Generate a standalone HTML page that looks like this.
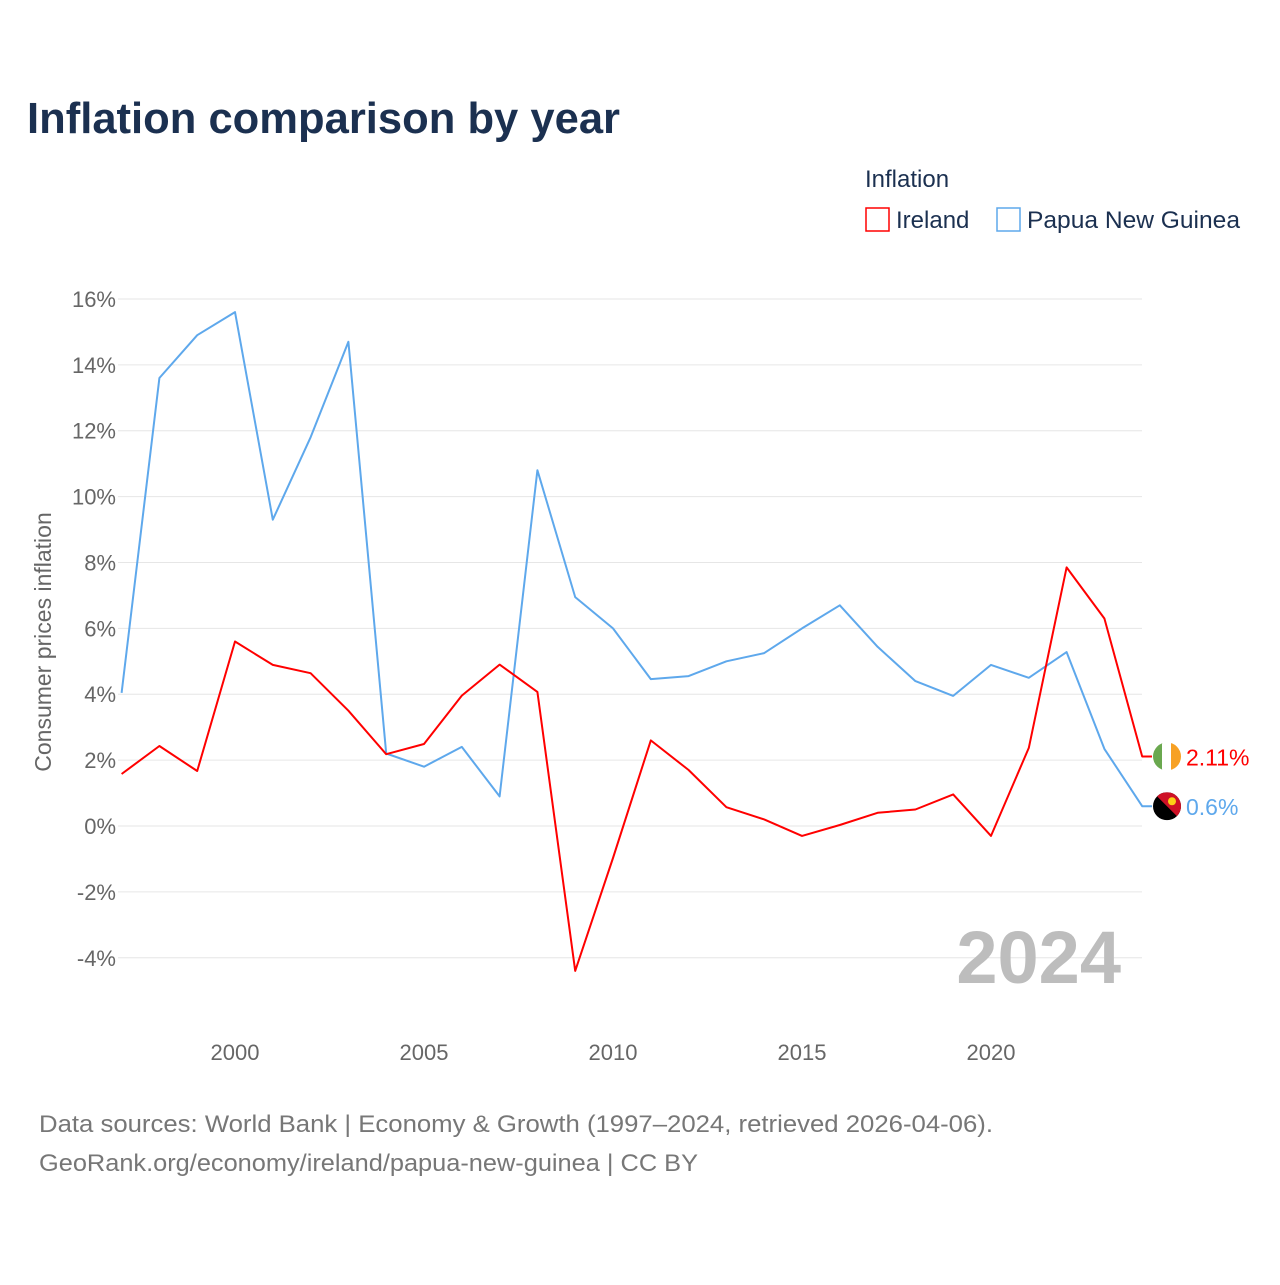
<!DOCTYPE html>
<html><head><meta charset="utf-8">
<style>
body{margin:0;background:#fff;font-family:"Liberation Sans",sans-serif;}
svg text{font-family:"Liberation Sans",sans-serif;}
</style></head>
<body>
<svg id="chart" width="1280" height="1280" xmlns="http://www.w3.org/2000/svg">
<defs>
<clipPath id="cPNG"><circle id="cPNGc" cx="1167" cy="806" r="14"/></clipPath>
<clipPath id="cIE"><circle id="cIEc" cx="1167" cy="756" r="14"/></clipPath>
</defs>
<rect width="1280" height="1280" fill="#fff"/>
<text x="27" y="133" font-size="44" font-weight="bold" fill="#1b3050" textLength="593" lengthAdjust="spacingAndGlyphs">Inflation comparison by year</text>
<g>
<text x="865" y="187" font-size="24" fill="#1b3050">Inflation</text>
<rect x="866" y="208" width="23" height="23" fill="none" stroke="#ff0000" stroke-width="1.5"/>
<text x="896" y="228" font-size="24" fill="#1b3050">Ireland</text>
<rect x="997" y="208" width="23" height="23" fill="none" stroke="#5ea8ec" stroke-width="1.5"/>
<text x="1027" y="228" font-size="24" fill="#1b3050" textLength="213" lengthAdjust="spacingAndGlyphs">Papua New Guinea</text>
</g>
<text transform="translate(51,642) rotate(-90)" text-anchor="middle" font-size="23" fill="#666">Consumer prices inflation</text>
<g id="grid"></g>
<g id="series"></g>
<text x="1121" y="983" text-anchor="end" font-size="74" font-weight="bold" fill="#bdbdbd">2024</text>
<text x="39" y="1132" font-size="24" fill="#777" textLength="954" lengthAdjust="spacingAndGlyphs">Data sources: World Bank | Economy &amp; Growth (1997–2024, retrieved 2026-04-06).</text>
<text x="39" y="1171" font-size="24" fill="#777" textLength="659" lengthAdjust="spacingAndGlyphs">GeoRank.org/economy/ireland/papua-new-guinea | CC BY</text>
</svg>
<script>
const years=[1997,1998,1999,2000,2001,2002,2003,2004,2005,2006,2007,2008,2009,2010,2011,2012,2013,2014,2015,2016,2017,2018,2019,2020,2021,2022,2023,2024];
const ireland=[1.58,2.43,1.67,5.6,4.89,4.64,3.5,2.18,2.49,3.96,4.9,4.07,-4.4,-0.97,2.6,1.7,0.57,0.2,-0.3,0.03,0.4,0.5,0.96,-0.3,2.37,7.85,6.3,2.11];
const png=[4.04,13.6,14.9,15.6,9.3,11.8,14.7,2.2,1.8,2.4,0.9,10.8,6.95,6.0,4.46,4.55,5.0,5.25,6.0,6.7,5.44,4.4,3.95,4.89,4.5,5.28,2.34,0.6];
const yTicks=[-4,-2,0,2,4,6,8,10,12,14,16];
const xTicks=[2000,2005,2010,2015,2020];
const NS="http://www.w3.org/2000/svg";
const x=v=>121.6+(v-1997)*37.8;
const y=v=>826-v*32.94;
const grid=document.getElementById('grid'),ser=document.getElementById('series');
function mk(tag,attrs,parent){const e=document.createElementNS(NS,tag);for(const k in attrs)e.setAttribute(k,attrs[k]);parent.appendChild(e);return e;}
yTicks.forEach(t=>{
  const l=mk('line',{x1:118,x2:1142,y1:y(t),y2:y(t),stroke:'#e6e6e6','stroke-width':1},grid);
  
  
  const tx=mk('text',{x:116,y:y(t)+8,'text-anchor':'end','font-size':22,fill:'#666'},grid);
  tx.textContent=t+'%';
  
  
});
xTicks.forEach(t=>{
  const tx=mk('text',{x:x(t),y:1060,'text-anchor':'middle','font-size':22,fill:'#666'},grid);
  tx.textContent=t;
  
  
});
function line(vals,color,name){
  let d=vals.map((v,i)=>(i?'L':'M')+x(years[i]).toFixed(1)+' '+y(v).toFixed(1)).join(' ');
  d+=' L1152 '+y(vals[vals.length-1]).toFixed(1);
  const p=mk('path',{d:d,fill:'none',stroke:color,'stroke-width':2,'stroke-linejoin':'round'},ser);
  
  
}
line(png,'#5ea8ec','line-papua-new-guinea');
line(ireland,'#ff0000','line-ireland');
const ie=ireland[ireland.length-1],pg=png[png.length-1];
document.getElementById('cIEc').setAttribute('cy',y(ie));
document.getElementById('cPNGc').setAttribute('cy',y(pg));
const fi=mk('g',{'clip-path':'url(#cIE)'},ser);


mk('rect',{x:1153,y:y(ie)-14,width:10,height:28,fill:'#6aa84f'},fi);
mk('rect',{x:1162,y:y(ie)-14,width:10,height:28,fill:'#fff'},fi);
mk('rect',{x:1171,y:y(ie)-14,width:10,height:28,fill:'#f7a124'},fi);
const fp=mk('g',{'clip-path':'url(#cPNG)'},ser);


mk('rect',{x:1153,y:y(pg)-14,width:28,height:28,fill:'#000'},fp);
mk('path',{d:`M1153 ${y(pg)-14} L1181 ${y(pg)-14} L1181 ${y(pg)+14} Z`,fill:'#ce1126'},fp);
mk('circle',{cx:1172,cy:y(pg)-5,r:4,fill:'#fcd116'},fp);
const l1=mk('text',{x:1186,y:y(ie)+9,'font-size':23,fill:'#ff0000'},ser);
l1.textContent=ie+'%';


const l2=mk('text',{x:1186,y:y(pg)+9,'font-size':23,fill:'#5ea8ec'},ser);
l2.textContent=pg+'%';


</script>
</body></html>
